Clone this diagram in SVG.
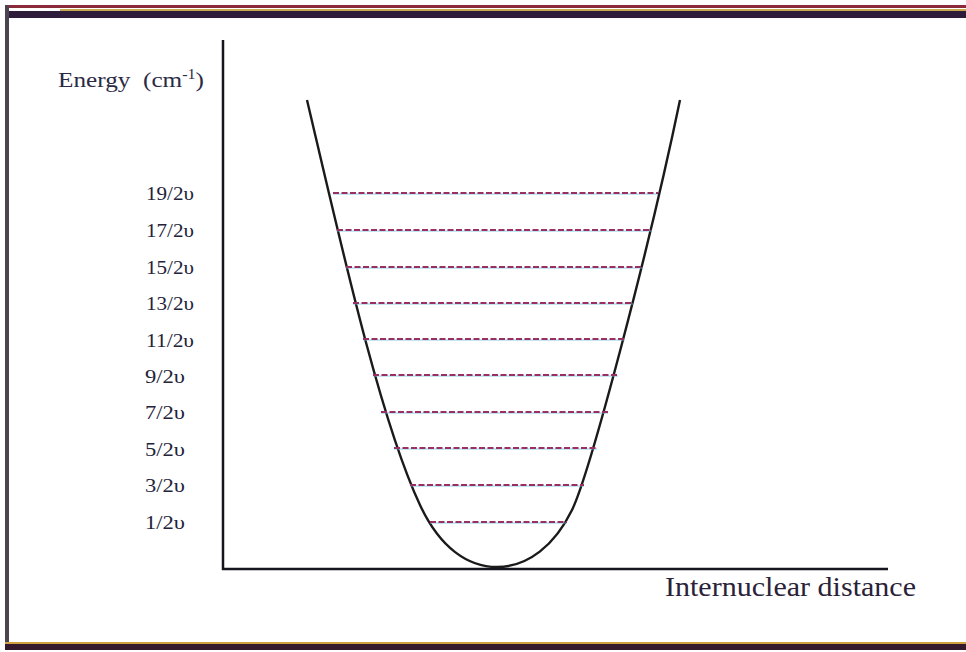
<svg xmlns="http://www.w3.org/2000/svg" width="966" height="652" viewBox="0 0 966 652">
<style>
  .lbl { font-family: "Liberation Serif", "Times New Roman", serif; font-size: 18px; fill: #23233a; }
  .title { font-family: "Liberation Serif", "Times New Roman", serif; font-size: 22px; fill: #2a2a45; }
  .xlab { font-family: "Liberation Serif", "Times New Roman", serif; font-size: 27px; fill: #2a2238; }
  .lvl { stroke: #9a2f62; stroke-width: 1.8; stroke-dasharray: 6 2.5; fill: none; }
  .lvlb { stroke: #6cc0e0; stroke-width: 1.2; fill: none; opacity: 0.8; }
  .axis { stroke: #151520; stroke-width: 2.5; fill: none; }
</style>
<rect width="966" height="652" fill="#ffffff"/>
<g id="frame">
  <rect x="5" y="5" width="961" height="3" fill="#8a2a3a"/>
  <rect x="5" y="11" width="961" height="7" fill="#2e1c3a"/>
  <rect x="60" y="9" width="906" height="2" fill="#c8a850"/>
  <rect x="5" y="5" width="4" height="645" fill="#4a4450"/>
  <rect x="5" y="644" width="961" height="6" fill="#34182c"/>
  <rect x="5" y="642" width="961" height="2" fill="#d0a040"/>
</g>
<g id="axes">
  <line class="axis" x1="223" y1="40" x2="223" y2="570"/>
  <line class="axis" x1="222" y1="569" x2="888" y2="569" stroke="#1e1e4a"/>
</g>
<g id="curve">
  <path d="M307,100 C340,240 380,420 420,505 C440,548 468,567 497,567 C528,567 555,545 572,510 C590,473 650,245 680,100" fill="none" stroke="#1a1a1a" stroke-width="2.4"/>
</g>
<g id="levels">
  <g id="lvl19"><line class="lvlb" x1="333" y1="194" x2="658" y2="194"/><line class="lvl" x1="333" y1="193" x2="658" y2="193"/></g>
  <g id="lvl17"><line class="lvlb" x1="337" y1="231" x2="652" y2="231"/><line class="lvl" x1="337" y1="230" x2="652" y2="230"/></g>
  <g id="lvl15"><line class="lvlb" x1="346" y1="268" x2="643" y2="268"/><line class="lvl" x1="346" y1="267" x2="643" y2="267"/></g>
  <g id="lvl13"><line class="lvlb" x1="353" y1="304" x2="633" y2="304"/><line class="lvl" x1="353" y1="303" x2="633" y2="303"/></g>
  <g id="lvl11"><line class="lvlb" x1="363" y1="340" x2="625" y2="340"/><line class="lvl" x1="363" y1="339" x2="625" y2="339"/></g>
  <g id="lvl9"><line class="lvlb" x1="373" y1="376" x2="618" y2="376"/><line class="lvl" x1="373" y1="375" x2="618" y2="375"/></g>
  <g id="lvl7"><line class="lvlb" x1="381" y1="413" x2="608" y2="413"/><line class="lvl" x1="381" y1="412" x2="608" y2="412"/></g>
  <g id="lvl5"><line class="lvlb" x1="394" y1="449" x2="597" y2="449"/><line class="lvl" x1="394" y1="448" x2="597" y2="448"/></g>
  <g id="lvl3"><line class="lvlb" x1="410" y1="486" x2="584" y2="486"/><line class="lvl" x1="410" y1="485" x2="584" y2="485"/></g>
  <g id="lvl1"><line class="lvlb" x1="430" y1="523" x2="567" y2="523"/><line class="lvl" x1="430" y1="522" x2="567" y2="522"/></g>
</g>
<g id="labels">
  <text class="title" x="58" y="87" textLength="146" lengthAdjust="spacingAndGlyphs">Energy&#160; (cm<tspan dy="-8" font-size="14">-1</tspan><tspan dy="8">)</tspan></text>
  <text class="lbl" x="146" y="200" textLength="48" lengthAdjust="spacingAndGlyphs">19/2υ</text>
  <text class="lbl" x="146" y="237" textLength="48" lengthAdjust="spacingAndGlyphs">17/2υ</text>
  <text class="lbl" x="146" y="274" textLength="48" lengthAdjust="spacingAndGlyphs">15/2υ</text>
  <text class="lbl" x="146" y="310" textLength="48" lengthAdjust="spacingAndGlyphs">13/2υ</text>
  <text class="lbl" x="146" y="347" textLength="48" lengthAdjust="spacingAndGlyphs">11/2υ</text>
  <text class="lbl" x="145" y="383" textLength="40" lengthAdjust="spacingAndGlyphs">9/2υ</text>
  <text class="lbl" x="145" y="419" textLength="40" lengthAdjust="spacingAndGlyphs">7/2υ</text>
  <text class="lbl" x="145" y="456" textLength="40" lengthAdjust="spacingAndGlyphs">5/2υ</text>
  <text class="lbl" x="145" y="492" textLength="40" lengthAdjust="spacingAndGlyphs">3/2υ</text>
  <text class="lbl" x="145" y="529" textLength="40" lengthAdjust="spacingAndGlyphs">1/2υ</text>
  <text class="xlab" x="665" y="596" textLength="251" lengthAdjust="spacingAndGlyphs">Internuclear distance</text>
</g>
</svg>
